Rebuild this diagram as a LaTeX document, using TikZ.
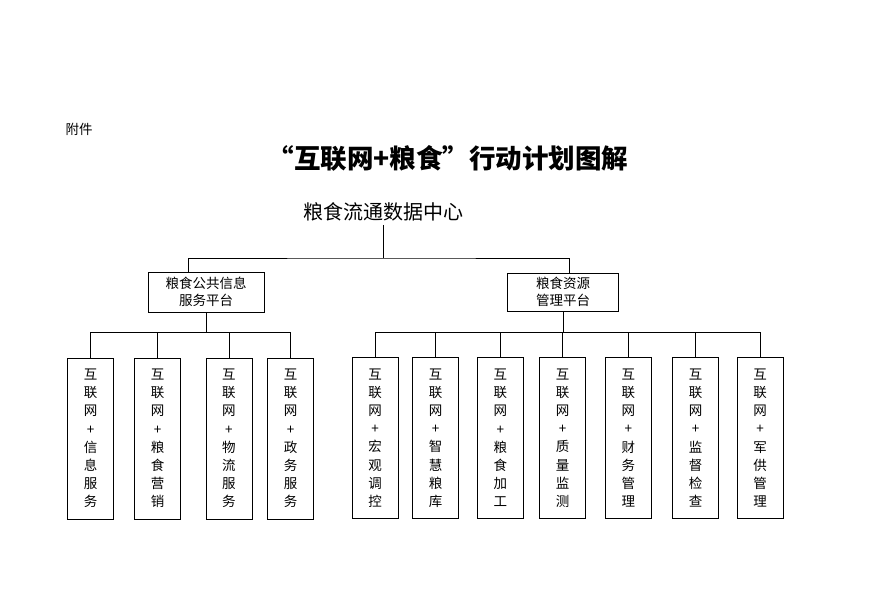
\documentclass[tikz,border=0pt]{standalone}
\usepackage{fontspec}
\newfontfamily\cjk{Noto Sans CJK SC}
\usetikzlibrary{positioning}
\tikzset{
    platbox/.style={draw, inner sep=0pt, align=center,
        font=\cjk\fontsize{13.5}{17}\selectfont},
    leafbox/.style={draw, minimum width=46pt, minimum height=161pt,
        inner sep=0pt, align=center, font=\cjk\fontsize{13.5}{18.2}\selectfont},
}

\begin{document}
\begin{tikzpicture}[x=1pt, y=-1pt, line width=0.7pt]
    \useasboundingbox[fill=white] (0,0) rectangle (869,599);
    % headings
    \node (fujian) at (79,129) {\cjk\fontsize{13.5}{15}\selectfont 附件};
    \node (title) at (448,158) {\cjk\bfseries\fontsize{26.5}{30}\selectfont “互联网+粮食”行动计划图解};
    \node (ctr) at (383,212) {\cjk\fontsize{20}{22}\selectfont 粮食流通数据中心};
    
    % platforms
    \node[platbox, minimum width=116pt, minimum height=40pt] (pub) at (206,292) {粮食公共信息\\服务平台};
    \node[platbox, minimum width=111pt, minimum height=38pt, right=243pt of pub] (res) {粮食资源\\管理平台};
    
    % public information leaves
    \node[leafbox] (l1) at (90.5,438.5) {互\\联\\网\\+\\信\\息\\服\\务};
    \node[leafbox, right=20.5pt of l1] (l2) {互\\联\\网\\+\\粮\\食\\营\\销};
    \node[leafbox, right=24.5pt of l2] (l3) {互\\联\\网\\+\\物\\流\\服\\务};
    \node[leafbox, right=15pt of l3] (l4) {互\\联\\网\\+\\政\\务\\服\\务};
    
    % resource management leaves
    \node[leafbox] (r1) at (375,438) {互\\联\\网\\+\\宏\\观\\调\\控};
    \node[leafbox, right=14pt of r1] (r2) {互\\联\\网\\+\\智\\慧\\粮\\库};
    \node[leafbox, right=18pt of r2] (r3) {互\\联\\网\\+\\粮\\食\\加\\工};
    \node[leafbox, right=15.5pt of r3] (r4) {互\\联\\网\\+\\质\\量\\监\\测};
    \node[leafbox, right=19pt of r4] (r5) {互\\联\\网\\+\\财\\务\\管\\理};
    \node[leafbox, right=20.5pt of r5] (r6) {互\\联\\网\\+\\监\\督\\检\\查};
    \node[leafbox, right=18pt of r6] (r7) {互\\联\\网\\+\\军\\供\\管\\理};
    
    % connectors
    \coordinate (hub) at (384,258);
    \coordinate[below=20pt of pub.south] (pubfork);
    \coordinate[below=21pt of res.south] (resfork);
    \draw (ctr.south) -- (ctr.south |- hub);
    \draw ([xshift=-18pt]pub.north) |- (hub) -| ([xshift=6.5pt]res.north);
    \draw (pub.south) -- (pubfork);
    \draw (l1.north) |- (pubfork) -| (l4.north);
    \foreach \n in {l2,l3}
        \draw (\n.north) -- (\n.north |- pubfork);
    \draw (res.south) -- (resfork);
    \draw (r1.north) |- (resfork) -| (r7.north);
    \foreach \n in {r2,r3,r4,r5,r6}
        \draw (\n.north) -- (\n.north |- resfork);
\end{tikzpicture}
\end{document}
